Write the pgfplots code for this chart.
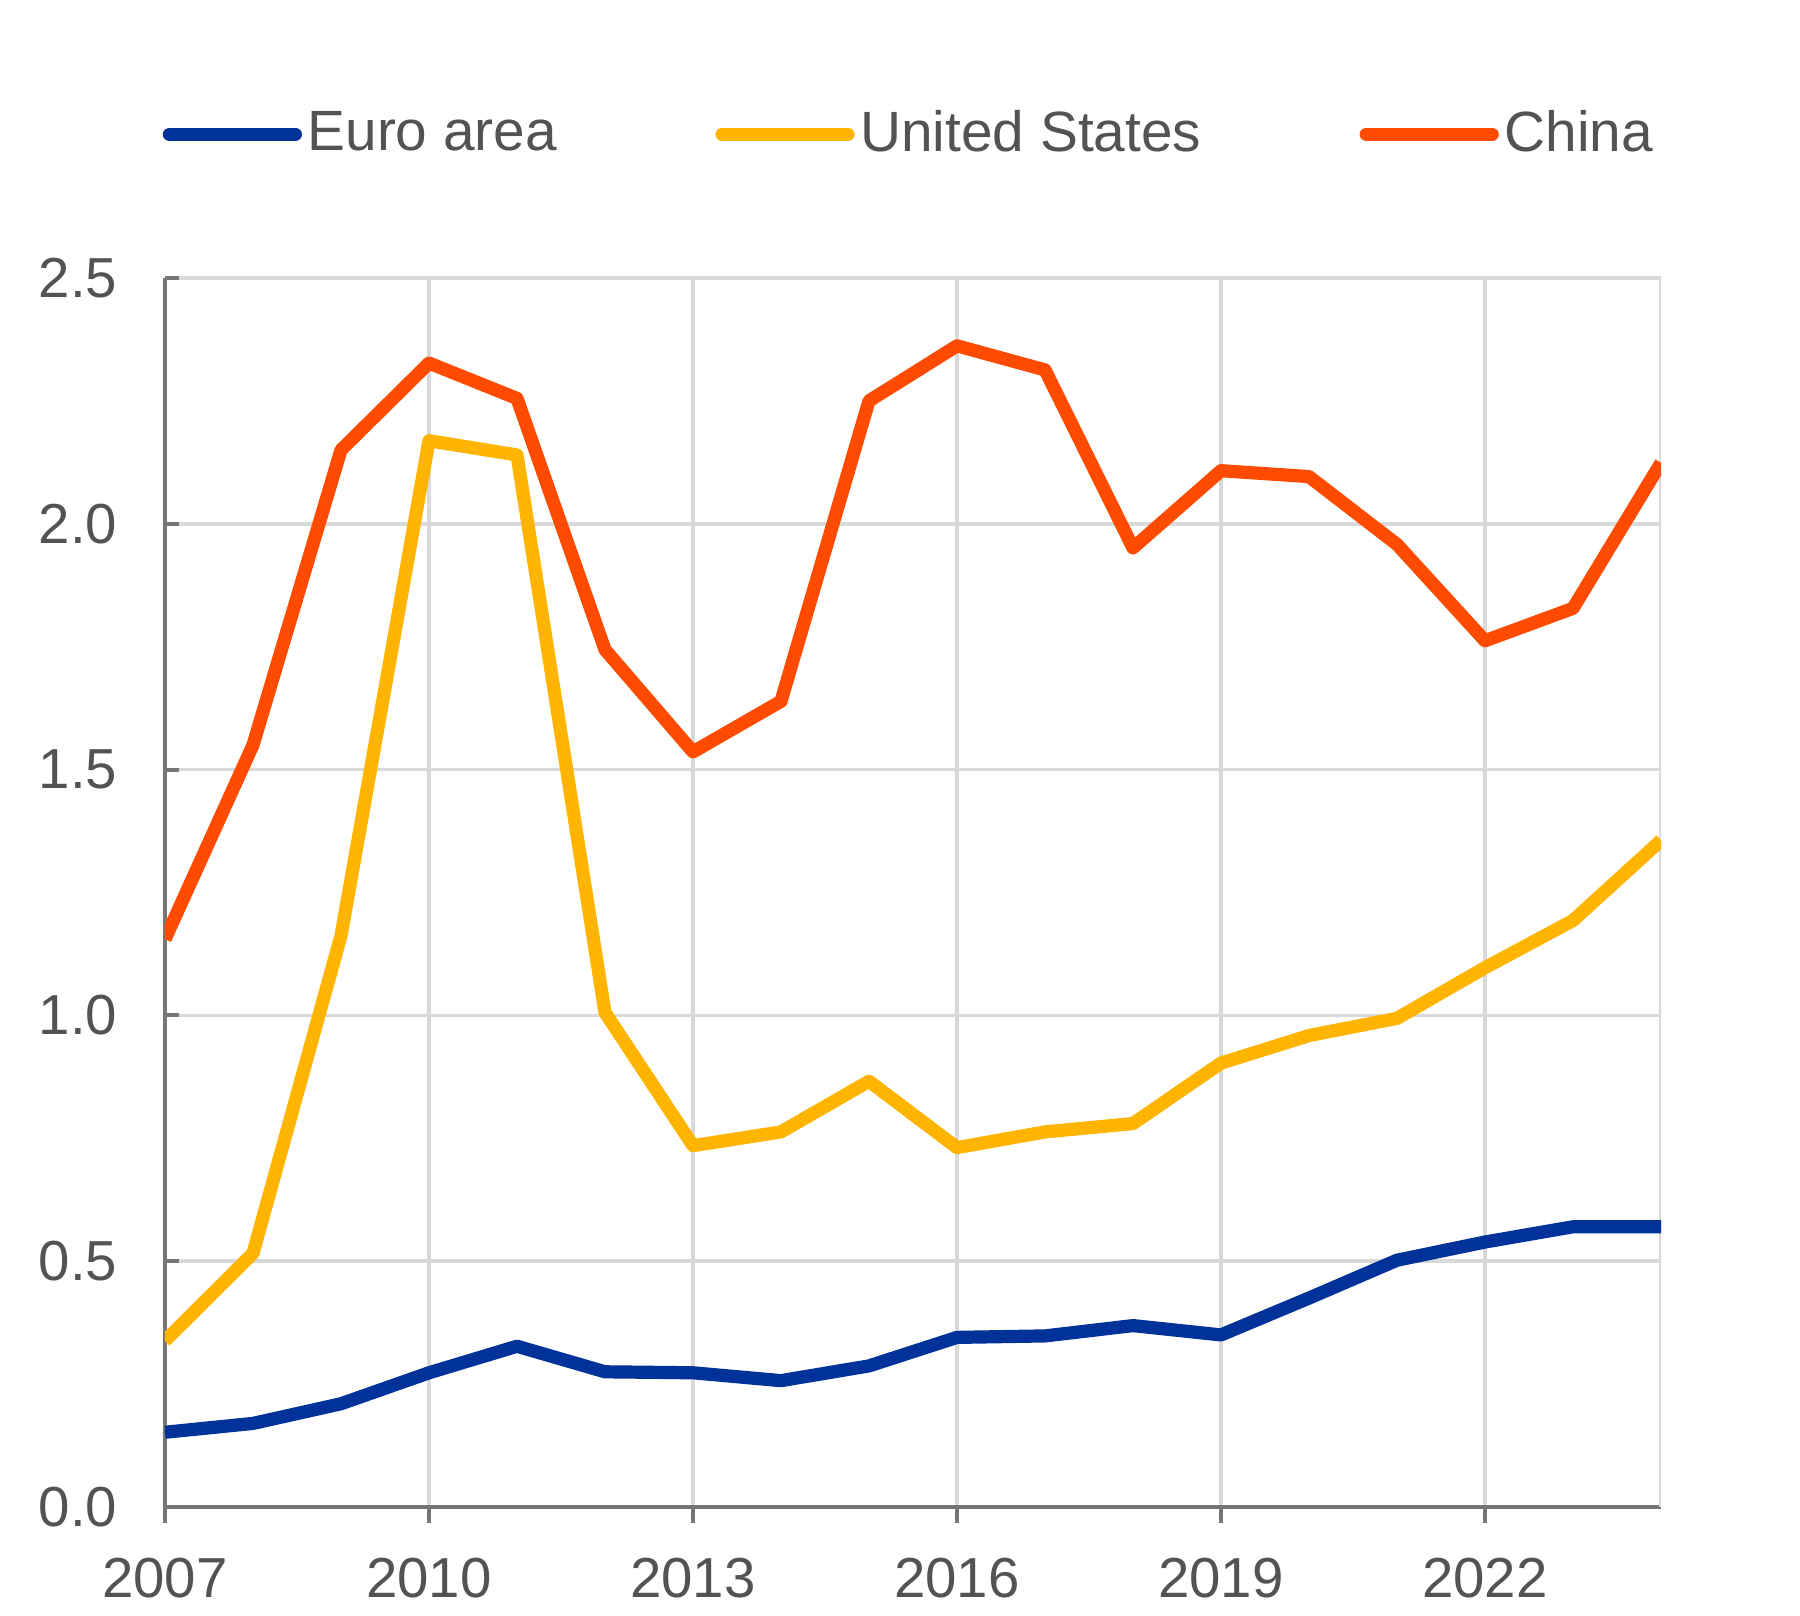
\documentclass[border=0pt]{standalone}
\usepackage{fontspec}
\setmainfont{Liberation Sans}
\usepackage{pgfplots}
\pgfplotsset{compat=1.18}
\definecolor{eablue}{RGB}{0,50,153}
\definecolor{usyellow}{RGB}{255,180,0}
\definecolor{cnorange}{RGB}{255,75,0}
\definecolor{txtgray}{RGB}{83,83,83}
\definecolor{gridgray}{RGB}{217,217,217}
\definecolor{axgray}{RGB}{118,118,118}
\begin{document}
\begin{tikzpicture}
\path[use as bounding box] (-41.25pt,-27.25pt) rectangle (408.75pt,376.75pt);
\begin{axis}[
  at={(0,0)}, anchor=south west,
  scale only axis, width=374pt, height=307.25pt,
  xmin=2007, xmax=2024, ymin=0, ymax=2.5,
  axis x line=bottom, axis y line=left,
  axis line style={axgray, line width=1pt, -},
  xtick={2007,2010,2013,2016,2019,2022},
  ytick={0,0.5,1,1.5,2,2.5},
  x tick label style={yshift=-7.2pt, /pgf/number format/1000 sep={}},
  y tick label style={xshift=-6.3pt, /pgf/number format/fixed, /pgf/number format/fixed zerofill, /pgf/number format/precision=1},
  /pgf/number format/assume math mode=true,
  ticklabel style={font=\fontsize{14.1}{16}\selectfont, text=txtgray},
  xtick style={axgray, line width=1pt},
  ytick style={axgray, line width=1pt},
  x tick style={/pgfplots/major tick length=4pt, /pgfplots/tick align=outside},
  y tick style={/pgfplots/major tick length=3.5pt, /pgfplots/tick align=inside},
  grid=major,
  major grid style={gridgray, line width=0.9pt},
  legend columns=3,
  legend style={draw=none, fill=none, at={(-0.002,1.117)}, anchor=west,
    inner sep=0pt, font=\fontsize{14.2}{16}\selectfont, text=txtgray,
    nodes={inner sep=0pt},
    /tikz/every odd column/.append style={column sep=1.4pt},
    /tikz/every even column/.append style={column sep=39.6pt}},
  legend cell align=left,
  legend image code/.code={\draw[#1, line cap=round] (0pt,0pt) -- (31.5pt,0pt);},
  every axis plot/.append style={line width=3.3pt, line join=round},
]
\draw[gridgray, line width=0.9pt] (rel axis cs:1,0) -- (rel axis cs:1,1);
\addplot[eablue] coordinates {
(2007,0.152) (2008,0.170) (2009,0.210) (2010,0.273) (2011,0.327) (2012,0.275)
(2013,0.273) (2014,0.257) (2015,0.287) (2016,0.345) (2017,0.348) (2018,0.369)
(2019,0.350) (2020,0.425) (2021,0.502) (2022,0.539) (2023,0.570) (2024,0.570)};
\addlegendentry{Euro area}
\addplot[usyellow] coordinates {
(2007,0.338) (2008,0.516) (2009,1.162) (2010,2.169) (2011,2.140) (2012,1.006)
(2013,0.735) (2014,0.763) (2015,0.866) (2016,0.731) (2017,0.763) (2018,0.780)
(2019,0.903) (2020,0.959) (2021,0.994) (2022,1.097) (2023,1.193) (2024,1.356)};
\addlegendentry{United States}
\addplot[cnorange] coordinates {
(2007,1.155) (2008,1.550) (2009,2.150) (2010,2.327) (2011,2.255) (2012,1.744)
(2013,1.536) (2014,1.639) (2015,2.250) (2016,2.362) (2017,2.313) (2018,1.951)
(2019,2.108) (2020,2.096) (2021,1.958) (2022,1.762) (2023,1.828) (2024,2.124)};
\addlegendentry{China}
\end{axis}
\end{tikzpicture}
\end{document}
